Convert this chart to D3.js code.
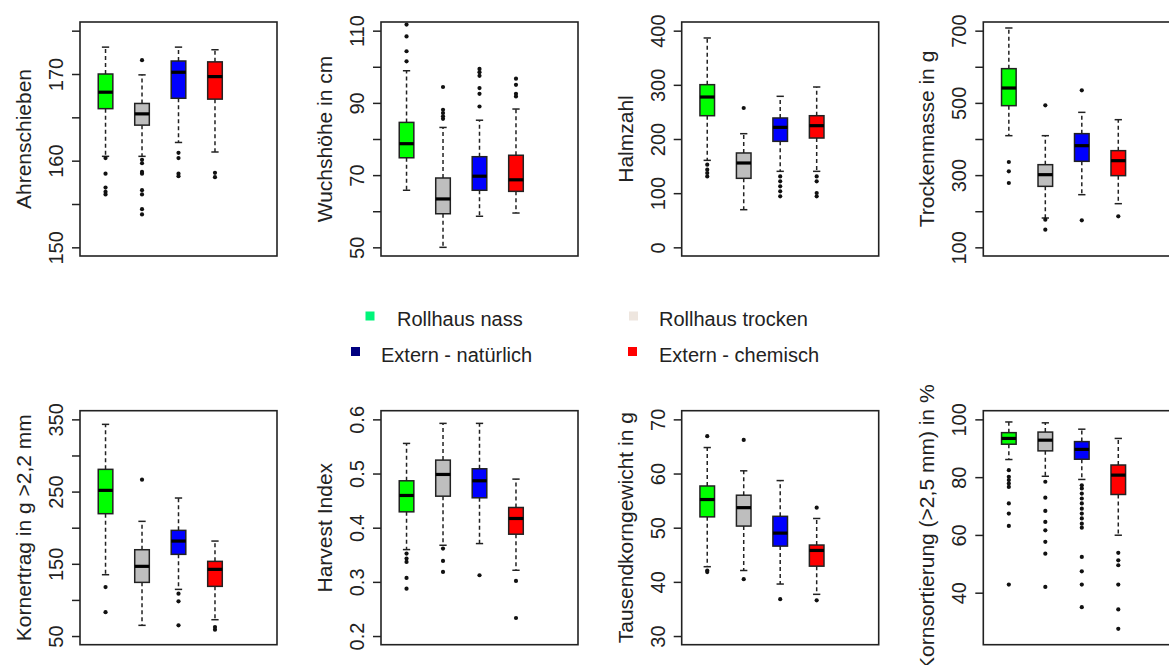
<!DOCTYPE html>
<html><head><meta charset="utf-8">
<script src="https://cdn.jsdelivr.net/npm/d3@7"></script>
<style>body{margin:0;background:#fff}svg{display:block;font-family:"Liberation Sans",Arial,sans-serif}</style>
</head><body><div id="chart"></div>
<script>
// ---------- DATA ----------
const groups = ["Rollhaus nass", "Rollhaus trocken", "Extern - natürlich", "Extern - chemisch"];
const boxColors = ["#00ff00", "#bebebe", "#0000ff", "#ff0000"];
const legendColors = ["#00f57a", "#eee6df", "#000080", "#ff0000"];

const titles = ["Ahrenschieben", "Wuchshöhe in cm", "Halmzahl", "Trockenmasse in g",
  "Kornertrag in g >2,2 mm", "Harvest Index", "Tausendkorngewicht in g", "Kornsortierung (>2,5 mm) in %"];

// [lower whisker, Q1, median, Q3, upper whisker]
const ahrenStats = [[160.5, 166.0, 167.9, 170.0, 173.1], [160.5, 164.1, 165.4, 166.6, 169.9], [162.1, 167.2, 170.2, 171.5, 173.1], [161.0, 167.1, 169.7, 171.4, 172.8]];
const ahrenOut = [[160.3, 158.5, 156.9, 156.4, 156.1], [171.6, 160.1, 159.7, 158.7, 158.5, 156.6, 156.1, 154.4, 153.8], [160.9, 160.3, 158.5, 158.2], [158.6, 158.1]];
const wuchsStats = [[65.8, 74.8, 78.7, 84.6, 98.9], [50.0, 59.3, 63.4, 69.2, 83.2], [58.6, 65.8, 69.7, 75.1, 85.2], [59.5, 65.5, 68.7, 75.5, 88.3]];
const wuchsOut = [[111.7, 108.4, 104.3, 101.5], [94.4, 88.1, 87.2, 86.3, 85.6], [99.4, 98.5, 97.5, 94.1, 92.5, 89.0], [96.7, 95.0, 92.5, 91.8]];
const halmStats = [[160.6, 243.0, 277.5, 300.3, 386.5], [69.5, 127.4, 155.7, 174.2, 209.8], [140.3, 195.7, 221.5, 238.8, 278.8], [140.3, 201.8, 224.6, 243.0, 296.0]];
const halmOut = [[152.6, 143.4, 137.2, 131.0], [257.2], [131.0, 121.8, 112.6, 103.4, 94.2], [131.0, 121.8, 100.3, 94.2]];
const trockStats = [[409.2, 492.3, 541.2, 594.8, 707.4], [181.2, 268.9, 301.2, 328.9, 409.2], [245.8, 338.2, 381.5, 414.8, 473.8], [220.9, 298.5, 340.0, 367.7, 453.5]];
const trockOut = [[336.3, 310.5, 278.1], [493.2, 176.6, 148.9], [534.8, 174.8], [185.8]];
const kornStats = [[134.9, 219.4, 251.7, 280.8, 343.1], [64.8, 124.3, 146.5, 169.5, 208.8], [114.6, 163.1, 181.5, 196.3, 241.1], [72.6, 118.8, 142.3, 153.4, 181.5]];
const kornOut = [[117.8, 83.1], [266.5], [108.6, 98.0, 64.8], [62.5, 58.8]];
const hiStats = [[0.3596, 0.4293, 0.4595, 0.4866, 0.5556], [0.3676, 0.4582, 0.4983, 0.5248, 0.5926], [0.3707, 0.4552, 0.4866, 0.5088, 0.5926], [0.3214, 0.388, 0.417, 0.4373, 0.4897]];
const hiOut = [[0.3522, 0.343, 0.3368, 0.3072, 0.2875], [0.3615, 0.3387, 0.3183], [0.3122], [0.3017, 0.2333]];
const tkgStats = [[42.8, 52.0, 55.2, 57.7, 64.8], [42.1, 50.3, 53.7, 56.0, 60.5], [39.6, 46.6, 49.0, 52.1, 58.7], [37.7, 42.9, 45.8, 46.8, 51.7]];
const tkgOut = [[66.9, 42.1, 41.8], [66.2, 40.5], [36.8], [53.7, 36.6]];
const sortStats = [[86.1, 91.4, 93.4, 95.4, 99.1], [80.3, 89.1, 92.8, 95.6, 98.8], [79.2, 86.2, 89.6, 92.3, 96.6], [59.9, 74.0, 80.7, 84.2, 93.4]];
const sortOut = [[82.4, 80.1, 79.0, 77.8, 76.6, 70.9, 67.4, 63.1, 42.8], [78.4, 72.9, 68.3, 64.5, 61.6, 57.6, 53.5, 42.0],
  [77.2, 76.1, 74.3, 72.6, 70.9, 69.1, 67.4, 65.7, 63.9, 62.5, 52.4, 47.4, 42.8, 35.0], [53.8, 51.2, 49.5, 42.8, 34.2, 27.5]];

// y-axis limits (ylim) and ticks
const yLims = [[150, 175], [50, 110], [0, 400], [100, 700], [50, 350], [0.2, 0.6], [30, 70], [25, 100]];
const yTicks = [[150, 155, 160, 165, 170, 175], [50, 60, 70, 80, 90, 100, 110], [0, 100, 200, 300, 400], [100, 200, 300, 400, 500, 600, 700],
  [50, 100, 150, 200, 250, 300, 350], [0.2, 0.3, 0.4, 0.5, 0.6], [30, 40, 50, 60, 70], [40, 60, 80, 100]];
const yTickLabels = [["150", "", "160", "", "170", ""], ["50", "", "70", "", "90", "", "110"], ["0", "100", "200", "300", "400"], ["100", "", "300", "", "500", "", "700"],
  ["50", "", "150", "", "250", "", "350"], ["0.2", "0.3", "0.4", "0.5", "0.6"], ["30", "40", "50", "60", "70"], ["40", "60", "80", "100"]];

const stats = [ahrenStats, wuchsStats, halmStats, trockStats, kornStats, hiStats, tkgStats, sortStats];
const outs = [ahrenOut, wuchsOut, halmOut, trockOut, kornOut, hiOut, tkgOut, sortOut];

// ---------- LAYOUT ----------
const W = 1169, H = 665;
const panelLefts = [80, 381, 681.7, 983.3];
const panelTops = [22, 410.7];
const pw = 197, ph = 234;

const svg = d3.select("#chart").append("svg").attr("width", W).attr("height", H);
const ink = "#222";

stats.forEach((st, i) => {
  const left = panelLefts[i % 4], top = panelTops[Math.floor(i / 4)];
  const g = svg.append("g").attr("transform", `translate(${left},${top})`);
  const lim = yLims[i], ext = (lim[1] - lim[0]) * 0.04;
  const y = d3.scaleLinear().domain([lim[0] - ext, lim[1] + ext]).range([ph, 0]);
  const x = d3.scaleLinear().domain([0.3, 5.7]).range([0, pw]);

  const axis = d3.axisLeft(y).tickValues(yTicks[i]).tickSize(8)
    .tickFormat((d, k) => yTickLabels[i][k]);
  const ag = g.append("g").call(axis);
  ag.select(".domain").remove();
  ag.selectAll(".tick line").attr("stroke", ink).attr("stroke-width", 1.5);
  ag.selectAll(".tick text").attr("transform", "rotate(-90)").attr("x", 0).attr("y", -17).attr("dy", 0)
    .attr("text-anchor", "middle").attr("font-size", 20).attr("fill", ink)
    .attr("font-family", "Liberation Sans, Arial, sans-serif");

  g.append("text").attr("transform", `translate(-49,${ph / 2}) rotate(-90)`).attr("text-anchor", "middle")
    .attr("font-size", 21).attr("fill", ink).text(titles[i]);

  const hw = (x(1.2) - x(1));
  st.forEach((s, j) => {
    const cx = x(j + 1);
    const [lo, q1, med, q3, hi] = s;
    // whiskers
    g.append("line").attr("x1", cx).attr("x2", cx).attr("y1", y(q3)).attr("y2", y(hi))
      .attr("stroke", ink).attr("stroke-width", 1.5).attr("stroke-dasharray", "4,3");
    g.append("line").attr("x1", cx).attr("x2", cx).attr("y1", y(q1)).attr("y2", y(lo))
      .attr("stroke", ink).attr("stroke-width", 1.5).attr("stroke-dasharray", "4,3");
    [lo, hi].forEach(v => g.append("line").attr("x1", cx - hw / 2).attr("x2", cx + hw / 2)
      .attr("y1", y(v)).attr("y2", y(v)).attr("stroke", ink).attr("stroke-width", 1.5));
    g.append("rect").attr("x", cx - hw).attr("width", 2 * hw).attr("y", y(q3)).attr("height", y(q1) - y(q3))
      .attr("fill", boxColors[j]).attr("stroke", ink).attr("stroke-width", 1.5);
    g.append("line").attr("x1", cx - hw).attr("x2", cx + hw).attr("y1", y(med)).attr("y2", y(med))
      .attr("stroke", "#000").attr("stroke-width", 3.2);
    g.selectAll(null).data(outs[i][j]).enter().append("circle")
      .attr("cx", cx).attr("cy", d => y(d)).attr("r", 2.1).attr("fill", "#111");
  });

  g.append("rect").attr("width", pw).attr("height", ph).attr("fill", "none")
    .attr("stroke", ink).attr("stroke-width", 1.6);
});

// ---------- LEGEND ----------
const legPos = [[370, 316, 397], [633.5, 316, 659], [355.5, 351.5, 381], [632.5, 351.5, 659]];
groups.forEach((name, k) => {
  const [mx, my, tx] = legPos[k];
  svg.append("rect").attr("x", mx - 4.5).attr("y", my - 4.5).attr("width", 9).attr("height", 9).attr("fill", legendColors[k]);
  svg.append("text").attr("x", tx).attr("y", my + 10).attr("font-size", 20).attr("fill", ink).text(name);
});
</script></body></html>
